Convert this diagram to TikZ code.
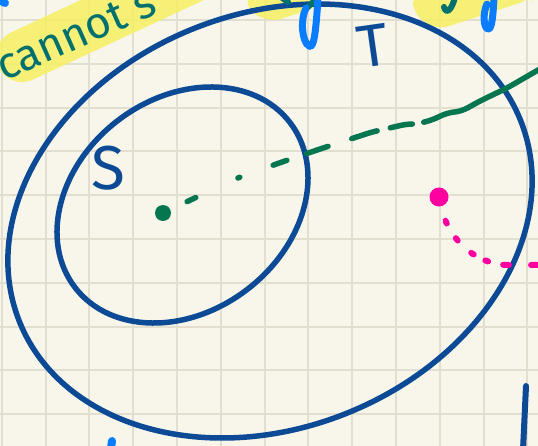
\documentclass[tikz,border=0pt]{standalone}
\usepackage{fontspec}
\newfontfamily\handfont{Fira Sans}
\usepackage{xcolor}
\definecolor{ntpaper}{RGB}{248, 246, 234}
\definecolor{ntgrid}{RGB}{226, 223, 208}
\definecolor{ntnavy}{RGB}{12, 74, 150}
\definecolor{ntsky}{RGB}{10, 125, 255}
\definecolor{ntteal}{RGB}{0, 112, 110}
\definecolor{ntgreen}{RGB}{6, 118, 80}
\definecolor{ntpink}{RGB}{255, 0, 160}
\definecolor{nthigh}{RGB}{246, 240, 90}
\usetikzlibrary{calc}

\begin{document}
\begin{tikzpicture}[x=1pt, y=-1pt,
    pen/.style={line width=5pt, line cap=round, line join=round},
    marker/.style={fill=nthigh, opacity=0.8},
    blob/.style={circle, inner sep=0pt, minimum size=#1},
    hand/.style={font=\handfont\fontsize{#1}{#1}\selectfont, inner sep=0pt}]

% === Papel cuadriculado ===
\useasboundingbox (0, 0) rectangle (538, 446);
\clip (0, 0) rectangle (538, 446);
\fill[ntpaper] (0, 0) rectangle (538, 446);
\foreach \i in {0,...,12}
    \draw[ntgrid, line width=2pt] ({1.7 + 43.8*\i}, 0) -- ++(0, 446);
\foreach \j in {0,...,9}
    \draw[ntgrid, line width=2pt] (0, {20 + 43.8*\j}) -- ++(538, 0);

% === Resaltado y texto de arriba ===
\draw[marker, draw=nthigh, line width=52pt, line cap=round, fill=none] (22, 56) -- (280, -64);
\fill[marker, rounded corners=10pt] (246, -5) -- (249, 12) -- (272, 22) -- (320, 6) -- (322, -5) -- cycle;
\fill[marker, rounded corners=12pt] (413, -8) -- (413, 14) -- (437, 30) -- (532, -1) -- (532, -8) -- cycle;

\node[hand=44, text=ntteal, anchor=base west, rotate=24] (note) at (4, 82) {cannot s};

% === Conjuntos T y S ===
\draw[pen, ntnavy, line width=5.5pt, rotate around={22:(270, 221)}] (270, 221) ellipse (270 and 207);
\draw[pen, ntnavy, line width=5.5pt, rotate around={37.5:(182.5, 205)}] (182.5, 205) ellipse (135.5 and 106.4);

\node[hand=62, text=ntnavy] (labS) at (108, 168) {S};
\node[hand=60, text=ntnavy, rotate=8] (labT) at (373, 46) {T};

% trazos sueltos de otras palabras
\draw[pen, ntteal, line width=6pt] (281, -3) -- (288, 2);
\draw[pen, ntteal, line width=6pt] (306, 9) -- (318, -3);
\draw[pen, ntteal, line width=6pt] (455, -3) .. controls (452, 10) and (446, 15) .. (444, 7);
\draw[pen, ntsky, line width=7pt] (318, -2) .. controls (316, 30) and (314, 50) .. (309, 46)
    .. controls (302, 42) and (300, 20) .. (306, 8);
\draw[pen, ntsky, line width=7pt] (494, -2) .. controls (493, 15) and (492, 30) .. (488, 29)
    .. controls (483, 28) and (483, 12) .. (487, 4);
\draw[pen, ntsky, line width=8pt] (-5, -2) -- (5, 3);
\draw[pen, ntsky, line width=8pt] (112, 441) -- (110, 455);
\draw[pen, ntnavy, line width=6pt] (526, 386) -- (523, 450);

% === Puntos y caminos ===
\node[blob=16pt, fill=ntgreen] (gdot) at (163, 213) {};
\node[blob=19pt, fill=ntpink] (pdot) at (439, 197) {};
\coordinate (gend) at (552, 62);
\coordinate (pend) at (550, 265);

% camino verde: discontinuo y luego continuo
\draw[pen, ntgreen, line width=5.5pt, rounded corners=6pt,
    dash pattern=on 9.5pt off 46.5pt on 2pt off 35.5pt on 14.5pt off 21pt on 22.5pt off 25pt
    on 26.5pt off 13.5pt on 22.5pt off 15.5pt on 500pt off 18.5pt, dash phase=754.5pt]
    (gdot) -- (235, 179) -- (282, 162) -- (323, 148) -- (372, 132) -- (407, 124) -- (417, 124)
    -- (432, 120) -- (447, 113) -- (462, 111) -- (480, 101) -- (507, 88) -- (gend);

% camino rosa punteado
\draw[pen, ntpink, line width=6pt,
    dash pattern=on 3pt off 17.3pt on 3pt off 18.3pt on 3pt off 13.1pt on 3pt off 15.4pt
    on 6pt off 21.9pt on 100pt off 15pt, dash phase=204pt]
    (pdot) .. controls (447, 235) and (470, 262) .. (505, 265) -- (pend);

\end{tikzpicture}
\end{document}
